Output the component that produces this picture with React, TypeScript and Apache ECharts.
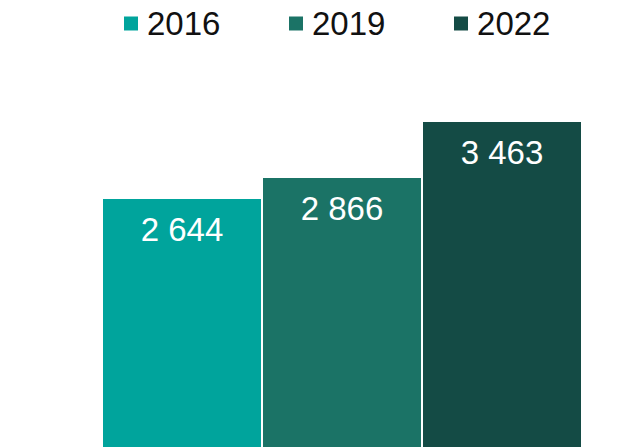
import React, { useEffect, useRef } from "react";
import * as echarts from "echarts";

const categories = ["Total"];
const seriesNames = ["2016", "2019", "2022"];
const values2016 = [2644];
const values2019 = [2866];
const values2022 = [3463];
const colors = ["#00A49C", "#1B7366", "#144B45"];

const fmt = (v: number) => String(v).replace(/\B(?=(\d{3})+(?!\d))/g, " ");

export default function App() {
  const ref = useRef<HTMLDivElement>(null);
  useEffect(() => {
    if (!ref.current) return;
    const chart = echarts.init(ref.current, undefined, { renderer: "svg" });
    const data = [values2016, values2019, values2022];
    chart.setOption({
      animation: false,
      legend: {
        top: 7,
        left: 124,
        padding: 0,
        itemWidth: 14,
        itemHeight: 14,
        itemGap: 68.6,
        icon: "rect",
        textStyle: { fontSize: 33, color: "#111", fontFamily: "Liberation Sans", padding: [0, 0, 0, 4] },
        data: seriesNames,
      },
      grid: { left: 103, right: 60, top: 118.6, bottom: -5, containLabel: false },
      xAxis: {
        type: "category",
        data: categories,
        show: false,
      },
      yAxis: { type: "value", min: 0, max: 3500, show: false },
      series: seriesNames.map((name, i) => ({
        name,
        type: "bar",
        data: data[i],
        barCategoryGap: 0,
        barGap: "1.27%",
        itemStyle: { color: colors[i] },
        label: {
          show: true,
          position: "insideTop",
          distance: 14,
          color: "#fff",
          fontSize: 33,
          fontFamily: "Liberation Sans",
          formatter: (p: any) => fmt(p.value),
        },
      })),
    });
    return () => chart.dispose();
  }, []);
  return (
    <div
      ref={ref}
      style={{ position: "absolute", left: 0, top: 0, width: 641, height: 447, background: "#fff" }}
    />
  );
}
